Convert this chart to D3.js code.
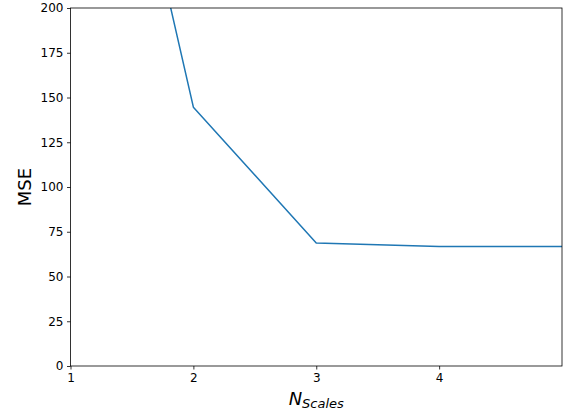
<!DOCTYPE html>
<html lang="en">
<head>
<meta charset="utf-8">
<title>MSE vs N scales</title>
<script src="https://cdn.jsdelivr.net/npm/d3@7"></script>
<style>
  body { margin: 0; background: #fff; }
  text { font-family: "DejaVu Sans", sans-serif; fill: #000; }
</style>
</head>
<body>
<svg id="chart" width="566" height="416"></svg>
<script>
// values
var nScales = [1, 2, 3, 4, 5];
var mse     = [445, 144.6, 68.7, 66.8, 66.8];
var xTicks  = [1, 2, 3, 4];
var yTicks  = [0, 25, 50, 75, 100, 125, 150, 175, 200];

var margin = {top: 8, right: 4, bottom: 50, left: 70.5};
var width  = 566 - margin.left - margin.right,
    height = 416 - margin.top - margin.bottom;

var svg = d3.select('#chart');
var g = svg.append('g')
    .attr('transform', 'translate(' + margin.left + ',' + margin.top + ')');

var x = d3.scaleLinear().domain([1, 5]).range([0, width]);
var y = d3.scaleLinear().domain([0, 200]).range([height, 0]);

g.append('clipPath').attr('id', 'clip')
  .append('rect').attr('width', width).attr('height', height);

var line = d3.line()
    .x(function(d, i){ return x(nScales[i]); })
    .y(function(d){ return y(d); });

g.append('path')
    .datum(mse)
    .attr('clip-path', 'url(#clip)')
    .attr('fill', 'none')
    .attr('stroke', '#1f77b4')
    .attr('stroke-width', 1.5)
    .attr('stroke-linejoin', 'round')
    .attr('d', line);

var xAxis = g.append('g')
    .attr('transform', 'translate(0,' + height + ')')
    .call(d3.axisBottom(x).tickValues(xTicks).tickSize(3.5).tickPadding(3.5).tickFormat(d3.format('d')));
var yAxis = g.append('g')
    .call(d3.axisLeft(y).tickValues(yTicks).tickSize(3.5).tickPadding(3.5).tickFormat(d3.format('d')));

[xAxis, yAxis].forEach(function(a){
  a.select('.domain').remove();
  a.selectAll('line').attr('stroke', '#000').attr('stroke-width', 0.8);
  a.selectAll('text').style('font-size', '12px').style('font-family', '"DejaVu Sans", sans-serif').attr('fill', '#000');
});

// frame
g.append('rect')
    .attr('width', width).attr('height', height)
    .attr('fill', 'none').attr('stroke', '#000').attr('stroke-width', 0.8);

// axis labels
svg.append('text')
    .attr('transform', 'translate(31,' + (margin.top + height / 2) + ') rotate(-90)')
    .attr('text-anchor', 'middle')
    .style('font-size', '18px')
    .text('MSE');

var xl = svg.append('text')
    .attr('x', margin.left + width / 2)
    .attr('y', 405)
    .attr('text-anchor', 'middle');
xl.append('tspan').style('font-size', '18px').style('font-style', 'italic').text('N');
xl.append('tspan').attr('dy', 3).style('font-size', '13px').style('font-style', 'italic').text('Scales');
</script>
</body>
</html>
